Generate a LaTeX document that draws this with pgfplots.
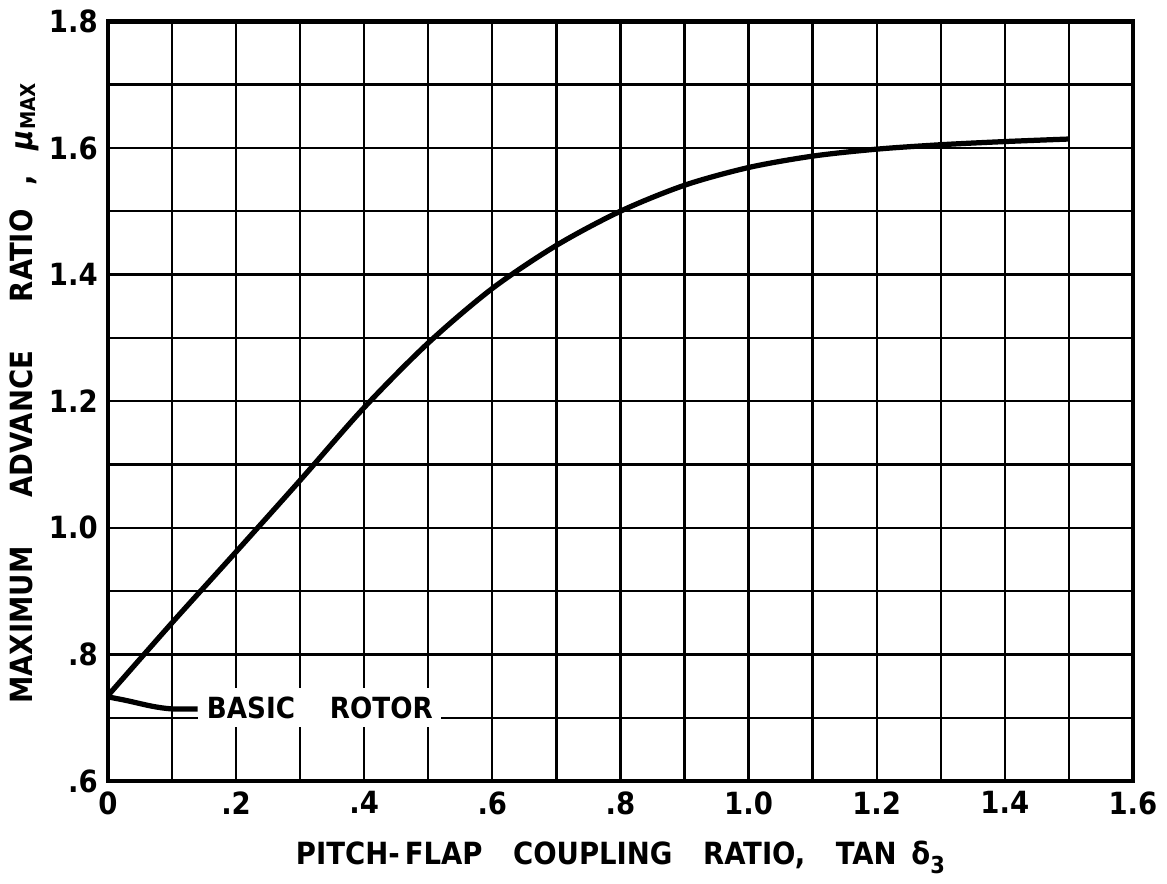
\documentclass[border=0pt]{standalone}
\usepackage{fontspec}
\setmainfont{DejaVu Sans Condensed}
\usepackage{pgfplots}
\pgfplotsset{compat=1.18}

\begin{document}
\begin{tikzpicture}
\begin{axis}[
  scale only axis, width=12.37cm, height=9.17cm,
  xmin=0, xmax=1.6, ymin=0.6, ymax=1.8,
  xtick={0,0.2,0.4,0.6,0.8,1.0,1.2,1.4,1.6},
  xticklabels={0,.2,.4,.6,.8,1.0,1.2,1.4,1.6},
  ytick={0.6,0.8,1.0,1.2,1.4,1.6,1.8},
  yticklabels={.6,.8,1.0,1.2,1.4,1.6,1.8},
  minor xtick={0.1,0.3,0.5,0.7,0.9,1.1,1.3,1.5},
  minor ytick={0.7,0.9,1.1,1.3,1.5,1.7},
  grid=both, grid style={black, line width=0.8pt},
  major tick length=0pt, minor tick length=0pt,
  axis line style={line width=1.6pt},
  /pgf/number format/assume math mode=true,
  tick label style={font=\bfseries\fontsize{10.5}{12}\selectfont},
  label style={font=\bfseries\fontsize{10.5}{12}\selectfont},
  xlabel={PITCH-\,FLAP\quad COUPLING\quad RATIO,\quad TAN\, δ\raisebox{-0.5ex}{\footnotesize 3}},
  xlabel style={at={(rel axis cs:0.5,0)}, anchor=center, yshift=-0.92cm},
  ylabel={MAXIMUM\hspace{1.6em}ADVANCE\hspace{1.6em}RATIO\hspace{0.8em},\hspace{0.8em}{\itshape μ}\raisebox{-0.2ex}{\scriptsize MAX}},
  ylabel style={at={(rel axis cs:0,0.51)}, anchor=center, rotate=0, yshift=1.01cm},
]
\addplot[line width=1.8pt, smooth] coordinates {
  (0,0.735) (0.1,0.85) (0.2,0.962) (0.3,1.075) (0.4,1.19) (0.5,1.292)
  (0.6,1.378) (0.7,1.446) (0.8,1.5) (0.9,1.541) (1.0,1.569) (1.1,1.587)
  (1.2,1.598) (1.3,1.605) (1.4,1.610) (1.5,1.614)};
\addplot[line width=1.8pt, smooth] coordinates {
  (0,0.733) (0.03,0.727) (0.07,0.718) (0.1,0.714) (0.14,0.714)};
\node[fill=white, inner xsep=3pt, inner ysep=3pt, anchor=west,
      font=\bfseries\fontsize{10}{12}\selectfont]
  at (axis cs:0.14,0.716) {BASIC\hspace{1.2em}ROTOR\hspace{2pt}};
\end{axis}
\end{tikzpicture}
\end{document}
